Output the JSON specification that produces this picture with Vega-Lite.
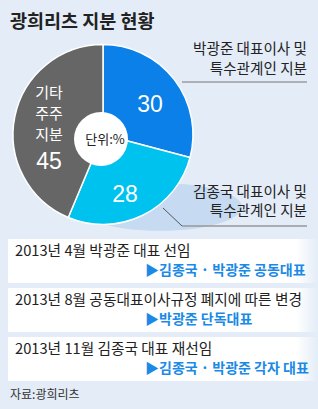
{
  "$schema": "https://vega.github.io/schema/vega-lite/v6.json",
  "width": 318,
  "height": 409,
  "autosize": {"type": "fit", "contains": "padding"},
  "padding": 0,
  "background": "#e3ecf7",
  "config": {"view": {"stroke": null}, "axis": {"disable": true}, "font": "Noto Sans CJK KR"},
  "resolve": {"scale": {"y": "independent"}},
  "layer": [
    {
      "layer": [
        {
          "data": {"values": [{"kind": "shadow"}]},
          "mark": {"type": "point", "shape": "M -1 0 A 1 0.29 0 1 0 1 0 A 1 0.29 0 1 0 -1 0 Z", "filled": true, "fill": "#c6daf1", "opacity": 1, "size": 26896, "strokeWidth": 0},
          "encoding": {
            "x": {"datum": 160, "type": "quantitative", "scale": {"domain": [0, 318], "nice": false, "zero": false}},
            "y": {"datum": 207, "type": "quantitative", "scale": {"domain": [409, 0], "nice": false, "zero": false}}
          }
        },
        {
          "data": {"values": [
            {"holder": "박광준 대표이사 및 특수관계인 지분", "share": 30, "rank": 1},
            {"holder": "김종국 대표이사 및 특수관계인 지분", "share": 28, "rank": 2},
            {"holder": "기타 주주 지분", "share": 45, "rank": 3}
          ]},
          "mark": {"type": "arc", "outerRadius": 90, "stroke": "#ffffff", "strokeWidth": 1.5},
          "encoding": {
            "x": {"datum": 103, "type": "quantitative", "scale": {"domain": [0, 318], "nice": false, "zero": false}},
            "y": {"datum": 134.5, "type": "quantitative", "scale": {"domain": [409, 0], "nice": false, "zero": false}},
            "theta": {"field": "share", "type": "quantitative", "stack": true},
            "order": {"field": "rank", "type": "quantitative"},
            "color": {"field": "holder", "type": "nominal", "scale": {"domain": ["박광준 대표이사 및 특수관계인 지분", "김종국 대표이사 및 특수관계인 지분", "기타 주주 지분"], "range": ["#0a80e8", "#00c2ee", "#666666"]}, "legend": null}
          }
        },
        {
          "data": {"values": [{"kind": "hole"}]},
          "mark": {"type": "point", "shape": "circle", "filled": true, "fill": "#ffffff", "opacity": 1, "size": 2916, "strokeWidth": 0},
          "encoding": {
            "x": {"datum": 101, "type": "quantitative", "scale": {"domain": [0, 318], "nice": false, "zero": false}},
            "y": {"datum": 139, "type": "quantitative", "scale": {"domain": [409, 0], "nice": false, "zero": false}}
          }
        },
        {
          "data": {"values": [{"kind": "leader1"}]},
          "mark": {"type": "rule", "color": "#777777", "strokeWidth": 1},
          "encoding": {
            "x": {"datum": 182, "type": "quantitative", "scale": {"domain": [0, 318], "nice": false, "zero": false}},
            "x2": {"datum": 307},
            "y": {"datum": 82, "type": "quantitative", "scale": {"domain": [409, 0], "nice": false, "zero": false}}
          }
        },
        {
          "data": {"values": [{"kind": "leader2a"}]},
          "mark": {"type": "rule", "color": "#555555", "strokeWidth": 1},
          "encoding": {
            "x": {"datum": 163, "type": "quantitative", "scale": {"domain": [0, 318], "nice": false, "zero": false}},
            "x2": {"datum": 182},
            "y": {"datum": 208, "type": "quantitative", "scale": {"domain": [409, 0], "nice": false, "zero": false}},
            "y2": {"datum": 226}
          }
        },
        {
          "data": {"values": [{"kind": "leader2b"}]},
          "mark": {"type": "rule", "color": "#999999", "strokeWidth": 1.5},
          "encoding": {
            "x": {"datum": 182, "type": "quantitative", "scale": {"domain": [0, 318], "nice": false, "zero": false}},
            "x2": {"datum": 307},
            "y": {"datum": 226, "type": "quantitative", "scale": {"domain": [409, 0], "nice": false, "zero": false}}
          }
        },
        {
          "data": {"values": [{"t": "광희리츠 지분 현황"}]},
          "mark": {"type": "text", "align": "left", "baseline": "middle", "fontSize": 18.5, "fontWeight": "bold", "color": "#222222", "font": "Noto Sans CJK KR"},
          "encoding": {
            "x": {"datum": 10, "type": "quantitative", "scale": {"domain": [0, 318], "nice": false, "zero": false}},
            "y": {"datum": 22, "type": "quantitative", "scale": {"domain": [409, 0], "nice": false, "zero": false}},
            "text": {"field": "t"}
          }
        },
        {
          "data": {"values": [{"t": "박광준 대표이사 및\n특수관계인 지분"}]},
          "mark": {"type": "text", "align": "right", "baseline": "middle", "fontSize": 14.6, "lineBreak": "\n", "lineHeight": 20, "color": "#222222", "font": "Noto Sans CJK KR"},
          "encoding": {
            "x": {"datum": 307, "type": "quantitative", "scale": {"domain": [0, 318], "nice": false, "zero": false}},
            "y": {"datum": 50, "type": "quantitative", "scale": {"domain": [409, 0], "nice": false, "zero": false}},
            "text": {"field": "t"}
          }
        },
        {
          "data": {"values": [{"t": "김종국 대표이사 및\n특수관계인 지분"}]},
          "mark": {"type": "text", "align": "right", "baseline": "middle", "fontSize": 14.6, "lineBreak": "\n", "lineHeight": 19, "color": "#222222", "font": "Noto Sans CJK KR"},
          "encoding": {
            "x": {"datum": 307, "type": "quantitative", "scale": {"domain": [0, 318], "nice": false, "zero": false}},
            "y": {"datum": 193, "type": "quantitative", "scale": {"domain": [409, 0], "nice": false, "zero": false}},
            "text": {"field": "t"}
          }
        },
        {
          "data": {"values": [{"t": "30"}]},
          "mark": {"type": "text", "align": "center", "baseline": "middle", "fontSize": 23, "color": "#ffffff", "font": "Liberation Sans"},
          "encoding": {
            "x": {"datum": 150, "type": "quantitative", "scale": {"domain": [0, 318], "nice": false, "zero": false}},
            "y": {"datum": 105, "type": "quantitative", "scale": {"domain": [409, 0], "nice": false, "zero": false}},
            "text": {"field": "t"}
          }
        },
        {
          "data": {"values": [{"t": "28"}]},
          "mark": {"type": "text", "align": "center", "baseline": "middle", "fontSize": 23, "color": "#ffffff", "font": "Liberation Sans"},
          "encoding": {
            "x": {"datum": 125, "type": "quantitative", "scale": {"domain": [0, 318], "nice": false, "zero": false}},
            "y": {"datum": 195, "type": "quantitative", "scale": {"domain": [409, 0], "nice": false, "zero": false}},
            "text": {"field": "t"}
          }
        },
        {
          "data": {"values": [{"t": "45"}]},
          "mark": {"type": "text", "align": "center", "baseline": "middle", "fontSize": 23, "color": "#ffffff", "font": "Liberation Sans"},
          "encoding": {
            "x": {"datum": 49, "type": "quantitative", "scale": {"domain": [0, 318], "nice": false, "zero": false}},
            "y": {"datum": 162, "type": "quantitative", "scale": {"domain": [409, 0], "nice": false, "zero": false}},
            "text": {"field": "t"}
          }
        },
        {
          "data": {"values": [{"t": "기타\n주주\n지분"}]},
          "mark": {"type": "text", "align": "center", "baseline": "middle", "fontSize": 15, "lineBreak": "\n", "lineHeight": 21, "color": "#ffffff", "font": "Noto Sans CJK KR"},
          "encoding": {
            "x": {"datum": 49, "type": "quantitative", "scale": {"domain": [0, 318], "nice": false, "zero": false}},
            "y": {"datum": 93, "type": "quantitative", "scale": {"domain": [409, 0], "nice": false, "zero": false}},
            "text": {"field": "t"}
          }
        },
        {
          "data": {"values": [{"t": "단위:%"}]},
          "mark": {"type": "text", "align": "center", "baseline": "middle", "fontSize": 13, "color": "#222222", "font": "Noto Sans CJK KR"},
          "encoding": {
            "x": {"datum": 105, "type": "quantitative", "scale": {"domain": [0, 318], "nice": false, "zero": false}},
            "y": {"datum": 140, "type": "quantitative", "scale": {"domain": [409, 0], "nice": false, "zero": false}},
            "text": {"field": "t"}
          }
        },
        {
          "data": {"values": [{"t": "자료:광희리츠"}]},
          "mark": {"type": "text", "align": "left", "baseline": "middle", "fontSize": 12, "color": "#333333", "font": "Noto Sans CJK KR"},
          "encoding": {
            "x": {"datum": 10, "type": "quantitative", "scale": {"domain": [0, 318], "nice": false, "zero": false}},
            "y": {"datum": 395, "type": "quantitative", "scale": {"domain": [409, 0], "nice": false, "zero": false}},
            "text": {"field": "t"}
          }
        }
      ]
    },
    {
      "data": {"values": [
        {"headline": "2013년 4월 박광준 대표 선임", "result": "▶김종국 · 박광준 공동대표"},
        {"headline": "2013년 8월 공동대표이사규정 폐지에 따른 변경", "result": "▶박광준 단독대표"},
        {"headline": "2013년 11월 김종국 대표 재선임", "result": "▶김종국 · 박광준 각자 대표"}
      ]},
      "encoding": {
        "y": {"field": "headline", "type": "nominal", "sort": null, "scale": {"range": [239, 381], "paddingInner": 0.1, "paddingOuter": 0}}
      },
      "layer": [
        {
          "mark": {"type": "rect", "fill": {"gradient": "linear", "x1": 0, "x2": 1, "y1": 0, "y2": 0, "stops": [{"offset": 0, "color": "#ffffff"}, {"offset": 0.93, "color": "#ffffff"}, {"offset": 1, "color": "#e3ecf7"}]}},
          "encoding": {
            "x": {"datum": 8, "type": "quantitative", "scale": {"domain": [0, 318], "nice": false, "zero": false}},
            "x2": {"datum": 318}
          }
        },
        {
          "mark": {"type": "text", "align": "left", "baseline": "middle", "dy": -9, "fontSize": 14.7, "color": "#222222", "font": "Noto Sans CJK KR"},
          "encoding": {
            "x": {"datum": 15, "type": "quantitative", "scale": {"domain": [0, 318], "nice": false, "zero": false}},
            "text": {"field": "headline"}
          }
        },
        {
          "mark": {"type": "text", "align": "left", "baseline": "middle", "dy": 10, "fontSize": 14, "fontWeight": "bold", "color": "#1a8ae6", "font": "Noto Sans CJK KR"},
          "encoding": {
            "x": {"datum": 145, "type": "quantitative", "scale": {"domain": [0, 318], "nice": false, "zero": false}},
            "text": {"field": "result"}
          }
        }
      ]
    }
  ]
}
